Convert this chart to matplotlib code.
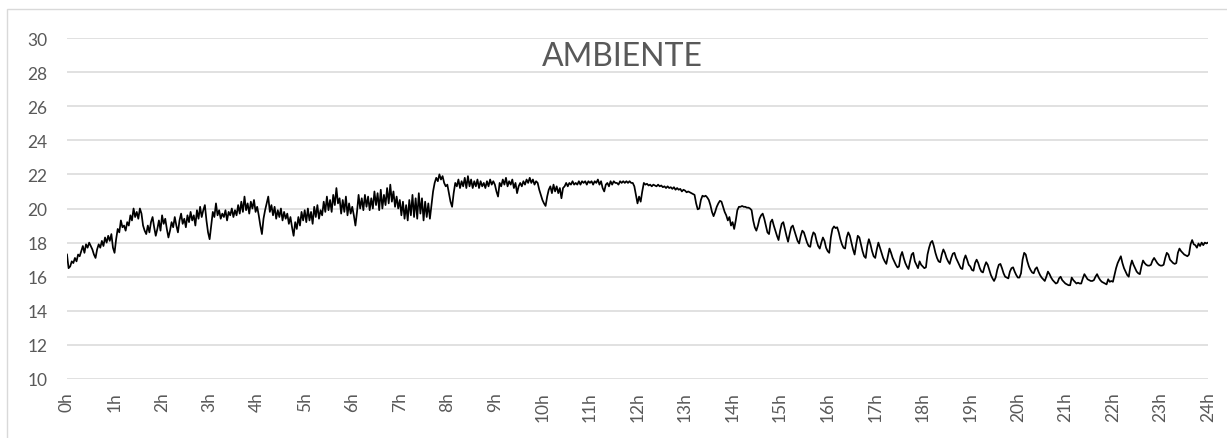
import numpy as np
import matplotlib
matplotlib.use('Agg')
import matplotlib.pyplot as plt
from matplotlib.patches import Rectangle

plt.rcParams['font.family'] = ['Lato', 'DejaVu Sans']

# Temperature readings (°C), one list per hour, evenly spaced within the hour
h00 = [17.3, 16.5, 16.6, 16.9, 16.8, 17.1, 16.9, 17.3, 17.2, 17.5,
       17.8, 17.4, 17.9, 17.7, 18.0, 17.8, 17.6, 17.3, 17.1, 17.6,
       17.9, 17.7, 18.1, 17.8, 18.3, 18.0, 18.4, 18.1, 18.5, 17.7]
h01 = [17.4, 18.2, 18.8, 18.6, 19.3, 18.9, 19.0, 18.7, 19.2, 19.0,
       19.6, 19.3, 20.0, 19.5, 19.8, 19.4, 20.0, 19.7, 19.0, 18.7,
       18.5, 19.0, 18.6, 19.2, 19.5, 18.9, 18.4, 18.8, 19.3, 18.7]
h02 = [19.6, 19.1, 19.4, 18.8, 18.3, 18.7, 19.2, 18.9, 19.5, 19.0,
       18.6, 19.3, 19.7, 19.1, 19.4, 18.9, 19.6, 19.2, 19.8, 19.3,
       19.6, 19.0, 19.9, 19.4, 20.1, 19.5, 19.9, 20.2, 19.3, 18.6]
h03 = [18.2, 19.0, 19.8, 19.5, 20.3, 19.6, 19.9, 19.4, 19.7, 19.5,
       19.9, 19.3, 19.8, 19.6, 20.0, 19.5, 19.9, 19.6, 20.2, 19.7,
       20.4, 19.8, 20.7, 19.9, 20.3, 19.7, 20.4, 20.0, 20.5, 19.8]
h04 = [20.1, 19.6, 19.0, 18.5, 19.4, 19.9, 20.3, 20.7, 19.8, 20.2,
       19.6, 20.1, 19.4, 19.9, 19.5, 20.0, 19.3, 19.8, 19.4, 19.7,
       19.1, 19.5, 18.9, 18.4, 19.2, 18.8, 19.5, 19.0, 19.8, 19.3]
h05 = [19.9, 19.2, 20.0, 19.3, 19.8, 19.1, 20.1, 19.5, 20.2, 19.4,
       19.9, 19.6, 20.4, 19.8, 20.7, 19.9, 20.5, 19.8, 20.8, 20.2,
       21.2, 20.3, 20.6, 19.7, 20.5, 19.8, 20.7, 19.6, 20.3, 19.7]
h06 = [20.1, 19.6, 19.0, 19.8, 20.8, 20.0, 20.6, 19.9, 20.8, 20.1,
       20.7, 19.9, 20.6, 20.0, 21.0, 20.2, 20.9, 19.9, 21.1, 20.0,
       20.8, 20.2, 21.2, 20.3, 21.4, 20.4, 21.0, 20.1, 20.7, 20.0]
h07 = [20.5, 19.6, 20.4, 19.4, 20.2, 19.3, 20.5, 19.6, 20.8, 19.5,
       20.6, 19.4, 20.9, 19.7, 20.6, 19.3, 20.4, 19.5, 20.3, 19.4,
       20.2, 21.0, 21.5, 21.8, 21.6, 22.0, 21.7, 21.9, 21.5, 21.3]
h08 = [21.4, 20.9, 20.4, 20.1, 20.9, 21.5, 21.3, 21.7, 21.2, 21.6,
       21.3, 21.8, 21.2, 21.9, 21.3, 21.7, 21.2, 21.6, 21.3, 21.7,
       21.2, 21.6, 21.3, 21.5, 21.2, 21.6, 21.3, 21.7, 21.4, 21.6]
h09 = [21.4, 21.0, 20.7, 21.5, 21.3, 21.7, 21.4, 21.8, 21.3, 21.6,
       21.4, 21.7, 21.2, 21.5, 20.9, 21.3, 21.5, 21.3, 21.6, 21.4,
       21.7, 21.5, 21.8, 21.5, 21.7, 21.4, 21.6, 21.5, 21.1, 20.8]
h10 = [20.5, 20.3, 20.15, 20.7, 21.1, 21.3, 20.9, 21.4, 21.0, 21.3,
       20.9, 21.2, 20.6, 21.2, 21.3, 21.5, 21.3, 21.5, 21.4, 21.6,
       21.4, 21.5, 21.4, 21.6, 21.4, 21.6, 21.5, 21.6, 21.4, 21.6]
h11 = [21.5, 21.6, 21.4, 21.6, 21.5, 21.7, 21.4, 21.6, 21.2, 21.0,
       21.4, 21.5, 21.3, 21.6, 21.4, 21.6, 21.5, 21.5, 21.4, 21.6,
       21.5, 21.6, 21.5, 21.6, 21.5, 21.6, 21.5, 21.5, 21.3, 20.8]
h12 = [20.3, 20.7, 20.4, 21.0, 21.5, 21.4, 21.45, 21.35, 21.4, 21.3,
       21.4, 21.35, 21.3, 21.4, 21.3, 21.35, 21.25, 21.3, 21.2, 21.3,
       21.2, 21.25, 21.15, 21.25, 21.1, 21.2, 21.1, 21.15, 21.0, 21.1]
h13 = [21.05, 20.95, 21.0, 20.95, 20.9, 20.85, 20.8, 20.3, 19.95, 20.0,
       20.5, 20.75, 20.7, 20.75, 20.65, 20.5, 20.2, 19.8, 19.55, 19.8,
       20.1, 20.3, 20.45, 20.4, 20.1, 19.8, 19.6, 19.3, 19.5, 19.0]
h14 = [19.2, 18.8, 19.3, 19.9, 20.1, 20.1, 20.15, 20.1, 20.1, 20.05,
       20.05, 20.0, 19.9, 19.3, 18.9, 18.7, 19.0, 19.4, 19.6, 19.7,
       19.4, 19.0, 18.6, 18.5, 19.2, 19.35, 19.0, 18.7, 18.4, 18.15]
h15 = [18.7, 19.1, 19.2, 18.8, 18.4, 18.05, 18.5, 18.9, 19.0, 18.7,
       18.4, 18.1, 17.95, 18.4, 18.7, 18.6, 18.3, 18.0, 17.8, 17.75,
       18.3, 18.6, 18.5, 18.1, 17.8, 17.65, 18.0, 18.3, 18.1, 17.7]
h16 = [17.5, 17.4, 18.3, 18.8, 18.95, 18.85, 18.9, 18.6, 18.2, 17.9,
       17.7, 17.65, 18.3, 18.6, 18.4, 18.0, 17.6, 17.3, 17.9, 18.4,
       18.3, 17.9, 17.5, 17.2, 17.1, 17.8, 18.2, 17.9, 17.5, 17.2]
h17 = [17.1, 17.6, 18.0, 17.7, 17.4, 17.1, 16.9, 16.75, 17.2, 17.65,
       17.4, 17.1, 16.9, 16.7, 16.55, 16.6, 17.2, 17.45, 17.1, 16.8,
       16.6, 16.45, 16.9, 17.3, 17.4, 16.9, 16.7, 16.5, 16.9, 16.7]
h18 = [16.6, 16.5, 16.55, 17.3, 17.7, 18.0, 18.1, 17.8, 17.4, 17.1,
       16.9, 16.85, 17.3, 17.6, 17.4, 17.1, 16.9, 16.75, 17.1, 17.35,
       17.4, 17.1, 16.9, 16.7, 16.5, 16.45, 17.0, 17.25, 17.0, 16.7]
h19 = [16.6, 16.4, 16.35, 16.8, 17.0, 16.8, 16.5, 16.3, 16.25, 16.6,
       16.85, 16.7, 16.4, 16.1, 15.9, 15.75, 15.95, 16.4, 16.7, 16.75,
       16.5, 16.2, 16.0, 15.95, 15.9, 16.3, 16.5, 16.55, 16.3, 16.1]
h20 = [15.95, 15.95, 16.2, 17.0, 17.4, 17.3, 16.9, 16.6, 16.4, 16.25,
       16.2, 16.45, 16.55, 16.3, 16.1, 15.95, 15.85, 15.75, 16.0, 16.3,
       16.15, 15.95, 15.8, 15.7, 15.6, 15.65, 15.9, 16.0, 15.8, 15.7]
h21 = [15.6, 15.55, 15.5, 15.5, 15.95, 15.8, 15.7, 15.6, 15.65, 15.6,
       15.6, 15.9, 16.15, 16.0, 15.85, 15.8, 15.75, 15.75, 15.8, 16.0,
       16.15, 15.95, 15.8, 15.7, 15.65, 15.6, 15.55, 15.85, 15.7, 15.75]
h22 = [15.7, 16.1, 16.5, 16.8, 17.0, 17.2, 16.8, 16.5, 16.3, 16.1,
       16.0, 16.6, 16.95, 16.7, 16.5, 16.3, 16.2, 16.15, 16.6, 16.95,
       16.8, 16.7, 16.65, 16.65, 16.7, 16.95, 17.1, 16.95, 16.8, 16.7]
h23 = [16.65, 16.65, 16.7, 17.1, 17.4, 17.3, 17.0, 16.9, 16.8, 16.75,
       16.8, 17.4, 17.65, 17.5, 17.4, 17.3, 17.25, 17.2, 17.3, 17.9,
       18.15, 17.9, 17.85, 17.7, 17.95, 17.8, 18.0, 17.85, 18.0, 17.95]
end_value = 18.0

hour_labels = [f"{h}h" for h in range(25)]
y_ticks = list(range(10, 31, 2))
title = "AMBIENTE"

hours = [h00, h01, h02, h03, h04, h05, h06, h07, h08, h09, h10, h11,
         h12, h13, h14, h15, h16, h17, h18, h19, h20, h21, h22, h23]
x = np.concatenate([h + np.arange(len(v)) / len(v) for h, v in enumerate(hours)] + [[24.0]])
y = np.concatenate([np.array(v, dtype=float) for v in hours] + [[end_value]])

W, H = 1227, 439
fig = plt.figure(figsize=(W / 100, H / 100), dpi=100)
fig.patch.set_facecolor('white')

# chart-area border
fig.patches.append(Rectangle((7 / W, -0.05), 1.2, (1 - 10 / H) + 0.05,
                             transform=fig.transFigure, fill=False,
                             edgecolor='#d9d9d9', lw=1.0))

ax = fig.add_axes([67 / W, 1 - 380 / H, (1208 - 67) / W, (380 - 39) / H])
ax.plot(x, y, color='black', lw=1.25)
ax.set_xlim(0, 24)
ax.set_ylim(10, 30)
ax.set_yticks(y_ticks)
ax.set_xticks(range(25))
ax.set_xticklabels(hour_labels, rotation=90)
ax.grid(axis='y', color='#d9d9d9', lw=1.1)
ax.set_axisbelow(True)
for s in ax.spines.values():
    s.set_visible(False)
ax.tick_params(axis='both', length=0, colors='#595959', labelsize=12.5)
ax.tick_params(axis='y', pad=14)
ax.tick_params(axis='x', pad=9)

fig.text(622 / W, 1 - 66 / H, title, ha='center', va='baseline',
         fontsize=23, color='#595959')

fig.savefig('out.png', dpi=100)
